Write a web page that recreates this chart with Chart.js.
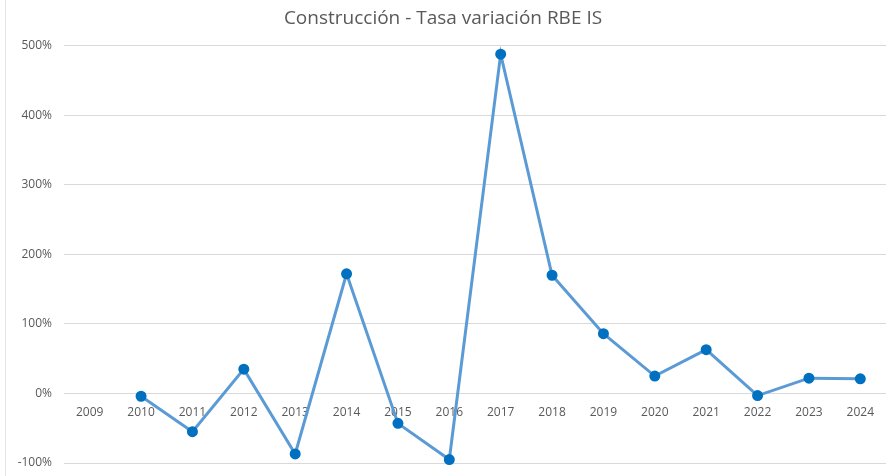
<!DOCTYPE html>
<html lang="es">
<head>
<meta charset="utf-8">
<title>Construcción - Tasa variación RBE IS</title>
<script src="https://cdn.jsdelivr.net/npm/chart.js@4.4.1/dist/chart.umd.min.js"></script>
<style>
    html, body { margin: 0; padding: 0; background: #fff; overflow: hidden; }
    .wrap { position: relative; width: 886px; height: 476px; }
    .wrap canvas { display: block; }
    .wrap .frame { position: absolute; left: 5px; top: 0; bottom: 0; width: 1px; background: #e3e3e3; }
</style>
</head>
<body>
<div class="wrap">
    <div class="frame"></div>
    <canvas id="rbeChart" width="886" height="476"></canvas>
</div>
<script>
// Años y tasa de variación (%) del RBE IS en construcción
const years = ['2009', '2010', '2011', '2012', '2013', '2014', '2015', '2016',
    '2017', '2018', '2019', '2020', '2021', '2022', '2023', '2024'];
const rateValues = [null, -4, -55, 35, -87, 172, -43, -95, 488, 170, 86, 25, 63, -3, 22, 21];
const yTicks = [-100, 0, 100, 200, 300, 400, 500];

const textColor = '#595959';
const gridColor = '#d9d9d9';
const fontFamily = "'Open Sans', 'Noto Sans', sans-serif";

// year labels sit just under the 0% line, behind the series line
const zeroLineLabels = {
    id: 'zeroLineLabels',
    beforeDatasetsDraw(chart) {
        const { ctx, scales: { x, y } } = chart;
        const baseY = y.getPixelForValue(0) + 19;
        ctx.save();
        ctx.font = `12px ${fontFamily}`;
        ctx.fillStyle = textColor;
        ctx.textAlign = 'center';
        ctx.textBaseline = 'middle';
        years.forEach((label, i) => {
            ctx.fillText(label, x.getPixelForValue(i), baseY);
        });
        ctx.restore();
    }
};

document.addEventListener('DOMContentLoaded', () => {
    const ctx = document.getElementById('rbeChart').getContext('2d');
    new Chart(ctx, {
        type: 'line',
        data: {
            labels: years,
            datasets: [{
                label: 'Tasa variación RBE IS',
                data: rateValues,
                borderColor: '#5b9bd5',
                borderWidth: 3,
                pointBackgroundColor: '#0070c0',
                pointBorderColor: '#0070c0',
                pointRadius: 4,
                tension: 0,
                spanGaps: false,
                clip: false
            }]
        },
        options: {
            responsive: false,
            animation: false,
            layout: {
                autoPadding: false,
                padding: { left: 0, right: 0, top: 0, bottom: 13 }
            },
            plugins: {
                legend: { display: false },
                tooltip: { enabled: false },
                title: {
                    display: true,
                    text: 'Construcción - Tasa variación RBE IS',
                    color: textColor,
                    font: { family: fontFamily, size: 19, weight: 'normal' },
                    padding: { top: 7, bottom: 16 }
                }
            },
            scales: {
                x: {
                    display: false,
                    offset: true
                },
                y: {
                    min: yTicks[0],
                    max: yTicks[yTicks.length - 1],
                    afterBuildTicks: (scale) => {
                        scale.ticks = yTicks.map(v => ({ value: v }));
                    },
                    afterFit: (scale) => {
                        scale.width = 64;
                        scale.paddingBottom = 0;
                    },
                    grid: { color: gridColor, lineWidth: 1, drawTicks: false },
                    border: { display: false },
                    ticks: {
                        color: textColor,
                        font: { family: fontFamily, size: 12 },
                        padding: 12,
                        callback: (value) => value + '%'
                    }
                }
            }
        },
        plugins: [zeroLineLabels]
    });
});
</script>
</body>
</html>
